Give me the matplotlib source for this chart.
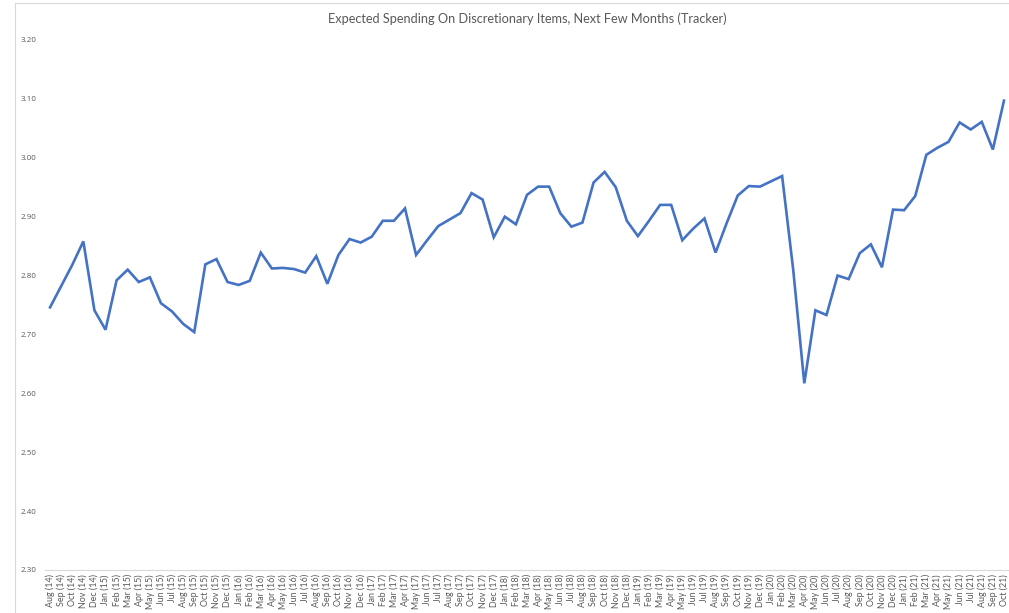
import matplotlib
matplotlib.use("Agg")
import matplotlib.pyplot as plt
from matplotlib.lines import Line2D

title = "Expected Spending On Discretionary Items, Next Few Months (Tracker)"

months = [
    "Aug (14)", "Sep (14)", "Oct (14)", "Nov (14)", "Dec (14)",
    "Jan (15)", "Feb (15)", "Mar (15)", "Apr (15)", "May (15)", "Jun (15)",
    "Jul (15)", "Aug (15)", "Sep (15)", "Oct (15)", "Nov (15)", "Dec (15)",
    "Jan (16)", "Feb (16)", "Mar (16)", "Apr (16)", "May (16)", "Jun (16)",
    "Jul (16)", "Aug (16)", "Sep (16)", "Oct (16)", "Nov (16)", "Dec (16)",
    "Jan (17)", "Feb (17)", "Mar (17)", "Apr (17)", "May (17)", "Jun (17)",
    "Jul (17)", "Aug (17)", "Sep (17)", "Oct (17)", "Nov (17)", "Dec (17)",
    "Jan (18)", "Feb (18)", "Mar (18)", "Apr (18)", "May (18)", "Jun (18)",
    "Jul (18)", "Aug (18)", "Sep (18)", "Oct (18)", "Nov (18)", "Dec (18)",
    "Jan (19)", "Feb (19)", "Mar (19)", "Apr (19)", "May (19)", "Jun (19)",
    "Jul (19)", "Aug (19)", "Sep (19)", "Oct (19)", "Nov (19)", "Dec (19)",
    "Jan (20)", "Feb (20)", "Mar (20)", "Apr (20)", "May (20)", "Jun (20)",
    "Jul (20)", "Aug (20)", "Sep (20)", "Oct (20)", "Nov (20)", "Dec (20)",
    "Jan (21)", "Feb (21)", "Mar (21)", "Apr (21)", "May (21)", "Jun (21)",
    "Jul (21)", "Aug (21)", "Sep (21)", "Oct (21)",
]

values = [
    2.746, 2.782, 2.818, 2.858, 2.741,
    2.708, 2.792, 2.810, 2.789, 2.797, 2.753,
    2.739, 2.718, 2.704, 2.819, 2.828, 2.789,
    2.784, 2.791, 2.839, 2.812, 2.813, 2.811,
    2.805, 2.833, 2.786, 2.835, 2.862, 2.856,
    2.866, 2.893, 2.893, 2.914, 2.835, 2.860,
    2.884, 2.895, 2.906, 2.940, 2.929, 2.865,
    2.900, 2.887, 2.937, 2.951, 2.951, 2.906,
    2.883, 2.890, 2.958, 2.976, 2.950, 2.893,
    2.867, 2.893, 2.920, 2.920, 2.860, 2.880,
    2.897, 2.839, 2.889, 2.936, 2.952, 2.951,
    2.960, 2.969, 2.810, 2.617, 2.741, 2.733,
    2.800, 2.794, 2.838, 2.853, 2.814, 2.912,
    2.911, 2.935, 3.005, 3.017, 3.027, 3.060,
    3.048, 3.061, 3.014, 3.097,
]

y_ticks = [2.30, 2.40, 2.50, 2.60, 2.70, 2.80, 2.90, 3.00, 3.10, 3.20]

plt.rcParams['font.family'] = ['Lato', 'DejaVu Sans']

W, H = 1009, 613
fig = plt.figure(figsize=(W / 100, H / 100), dpi=100)
ax = fig.add_axes([44.5 / W, 1 - 570 / H, 965 / W, 530 / H])

x = list(range(len(values)))
ax.plot(x, values, color="#4472C4", linewidth=1.9, solid_joinstyle="miter")

ax.set_xlim(-0.5, len(values) - 0.5)
ax.set_ylim(2.30, 3.20)
ax.set_yticks(y_ticks)
ax.set_yticklabels([f"{v:.2f}" for v in y_ticks], family=['Open Sans', 'DejaVu Sans'])
ax.set_xticks(x)
ax.set_xticklabels(months, rotation=90)

for s in ["top", "right", "left"]:
    ax.spines[s].set_visible(False)
ax.spines["bottom"].set_color("#D9D9D9")
ax.spines["bottom"].set_linewidth(0.8)

ax.tick_params(axis="y", length=0, pad=6, labelsize=5.8, labelcolor="#595959")
ax.tick_params(axis="x", length=0, pad=3, labelsize=6.4, labelcolor="#595959")

fig.text(527 / W, 1 - 19 / H, title, ha="center", va="center",
         fontsize=9.2, color="#595959")

# outer chart-area frame
fig.add_artist(Line2D([15 / W, 15 / W], [0, 1 - 3 / H], transform=fig.transFigure,
                      color="#D9D9D9", linewidth=0.8))
fig.add_artist(Line2D([15 / W, 1], [1 - 3 / H, 1 - 3 / H], transform=fig.transFigure,
                      color="#D9D9D9", linewidth=0.8))

fig.savefig("out.png", dpi=100, facecolor="white")
